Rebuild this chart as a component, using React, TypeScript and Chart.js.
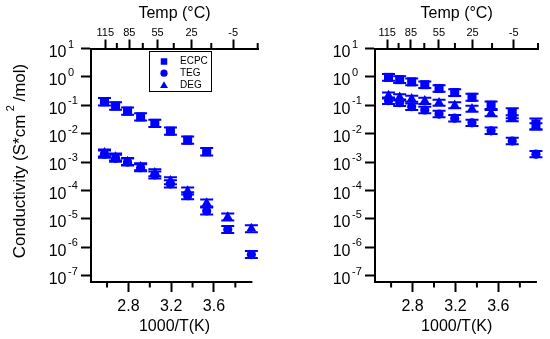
import React, { useEffect, useRef } from 'react';
import { Chart, registerables } from 'chart.js';
import { drawPoint } from 'chart.js/helpers';

Chart.register(...registerables);

const FONT = "'Liberation Sans', Arial, Helvetica, sans-serif";
const BLUE = '#0000ff';

// ---- data ----
// 1000/T positions of the measurement temperatures (115 ... -20 °C)
const xInvT = [2.576, 2.68, 2.792, 2.914, 3.047, 3.193, 3.354, 3.532, 3.729, 3.95];

const leftEcpc = [0.133, 0.094, 0.062, 0.039, 0.023, 0.0123, 0.0059, 0.0023];
const leftTeg = [1.9e-3, 1.35e-3, 1.0e-3, 6.3e-4, 3.5e-4, 1.7e-4, 6.5e-5, 1.9e-5, 4.2e-6, 5.5e-7];
const leftDeg = [2.1e-3, 1.5e-3, 1.05e-3, 6.8e-4, 4.2e-4, 2.2e-4, 9.5e-5, 3.6e-5, 1.15e-5, 4.5e-6];

const rightEcpc = [0.96, 0.8, 0.67, 0.53, 0.39, 0.28, 0.19, 0.1, 0.052, 0.022];
const rightTeg = [0.145, 0.123, 0.089, 0.068, 0.049, 0.035, 0.024, 0.0126, 0.0055, 0.0019];
const rightDeg = [0.22, 0.19, 0.17, 0.143, 0.123, 0.1, 0.075, 0.053, 0.035, 0.018];

// multiplicative error factors (upper = v*f, lower = v/f)
const leftEcpcErr = [1.35, 1.35, 1.35, 1.35, 1.35, 1.35, 1.35, 1.35];
const leftTegErr = [1.33, 1.33, 1.33, 1.33, 1.33, 1.33, 1.33, 1.33, 1.33, 1.33];
const leftDegErr = [1.33, 1.33, 1.33, 1.33, 1.33, 1.33, 1.33, 1.33, 1.33, 1.33];
const rightEcpcErr = [1.31, 1.31, 1.31, 1.31, 1.31, 1.31, 1.33, 1.35, 1.5, 1.56];
const rightTegErr = [1.3, 1.3, 1.3, 1.3, 1.3, 1.3, 1.3, 1.3, 1.3, 1.3];
const rightDegErr = [1.28, 1.28, 1.28, 1.28, 1.28, 1.28, 1.28, 1.28, 1.28, 1.28];

const seriesNames = ['ECPC', 'TEG', 'DEG'];
const seriesStyles = ['rect', 'circle', 'triangle'];

const bottomTicks = [2.6, 2.8, 3.0, 3.2, 3.4, 3.6, 3.8];
const bottomLabels = ['', '2.8', '', '3.2', '', '3.6', ''];
const topTemps = [115, 100, 85, 70, 55, 40, 25, 10, -5, -20];
const topLabels = ['115', '', '85', '', '55', '', '25', '', '-5', ''];
const yDecades = [-7, -6, -5, -4, -3, -2, -1, 0, 1];

const xTitle = '1000/T(K)';
const topTitle = 'Temp (°C)';
const yTitleParts = ['Conductivity (S*cm', '2', '/mol)'];

type Panel = {
  left: number;
  width: number;
  yWidth: number;
  padRight: number;
  xMax: number;
  topMin: number;
  topMax: number;
  yTitle: boolean;
  legend: boolean;
  series: number[][];
  errs: number[][];
};

const panels: Panel[] = [
  {
    left: 0, width: 275, yWidth: 91, padRight: 17, xMax: 4.012, topMin: 2.447, topMax: 3.953,
    yTitle: true, legend: true,
    series: [leftEcpc, leftTeg, leftDeg], errs: [leftEcpcErr, leftTegErr, leftDegErr],
  },
  {
    left: 275, width: 275, yWidth: 100, padRight: 11.7, xMax: 3.972, topMin: 2.465, topMax: 3.953,
    yTitle: false, legend: false,
    series: [rightEcpc, rightTeg, rightDeg], errs: [rightEcpcErr, rightTegErr, rightDegErr],
  },
];

const pointRadius = [6.4, 4.6, 5.8];
const legendRadius = [4.6, 3.6, 4.6];

function makeConfig(p: Panel): any {
  const topTickValues = topTemps.map((t) => 1000 / (t + 273.15));
  const yPad = 14.5;
  const decor = {
    id: 'decor' + p.left,
    beforeDatasetsDraw(chart: any) {
      const ctx = chart.ctx;
      const ys = chart.scales.y;
      ctx.save();
      ctx.strokeStyle = BLUE;
      chart.data.datasets.forEach((ds: any, di: number) => {
        const meta = chart.getDatasetMeta(di);
        const errs = p.errs[di];
        meta.data.forEach((pt: any, i: number) => {
          const v = ds.data[i].y;
          const f = errs[i];
          const yHi = ys.getPixelForValue(v * f);
          const yLo = ys.getPixelForValue(v / f);
          const x = pt.x;
          ctx.lineWidth = 1.5;
          ctx.beginPath();
          ctx.moveTo(x, yHi);
          ctx.lineTo(x, yLo);
          ctx.stroke();
          ctx.lineWidth = 2;
          ctx.beginPath();
          ctx.moveTo(x - 6.5, yHi);
          ctx.lineTo(x + 6.5, yHi);
          ctx.moveTo(x - 6.5, yLo);
          ctx.lineTo(x + 6.5, yLo);
          ctx.stroke();
        });
      });
      ctx.restore();
    },
    afterDraw(chart: any) {
      const ctx = chart.ctx;
      const ca = chart.chartArea;
      const xs = chart.scales.x;
      const x2 = chart.scales.x2;
      const ys = chart.scales.y;
      ctx.save();
      ctx.strokeStyle = '#000';
      ctx.fillStyle = '#000';
      ctx.lineWidth = 2;
      // bottom axis line
      ctx.beginPath();
      ctx.moveTo(ca.left - 1, ca.bottom);
      ctx.lineTo(xs.getPixelForValue(3.95) + 1, ca.bottom);
      ctx.stroke();
      // minor ticks
      ctx.beginPath();
      xs.ticks.forEach((t: any, i: number) => {
        if (!bottomLabels[i]) {
          const px = xs.getPixelForValue(t.value);
          ctx.moveTo(px, ca.bottom);
          ctx.lineTo(px, ca.bottom + 5.5);
        }
      });
      x2.ticks.forEach((t: any, i: number) => {
        if (!topLabels[i]) {
          const px = x2.getPixelForValue(t.value);
          ctx.moveTo(px, ca.top);
          ctx.lineTo(px, ca.top - 5.5);
        }
      });
      ctx.stroke();
      // exponents of y tick labels
      ctx.font = `11px ${FONT}`;
      ctx.textAlign = 'left';
      ctx.textBaseline = 'middle';
      const labelRight = ys.right - 10 - yPad;
      ys.ticks.forEach((t: any) => {
        const py = ys.getPixelForValue(t.value);
        const e = Math.round(Math.log10(t.value));
        ctx.fillText(String(e), labelRight + 1.5, py - 4);
      });
      // y title
      if (p.yTitle) {
        ctx.save();
        ctx.translate(20, 161);
        ctx.rotate(-Math.PI / 2);
        const big = `17px ${FONT}`;
        const small = `11px ${FONT}`;
        const gap = 3.5;
        ctx.font = big;
        const w0 = ctx.measureText(yTitleParts[0]).width;
        const w2 = ctx.measureText(yTitleParts[2]).width;
        ctx.font = small;
        const w1 = ctx.measureText(yTitleParts[1]).width;
        let x = -(w0 + w1 + w2 + 2 * gap) / 2;
        ctx.textAlign = 'left';
        ctx.textBaseline = 'middle';
        ctx.font = big;
        ctx.fillText(yTitleParts[0], x, 0);
        x += w0 + gap;
        ctx.font = small;
        ctx.fillText(yTitleParts[1], x, -9);
        x += w1 + gap;
        ctx.font = big;
        ctx.fillText(yTitleParts[2], x, 0);
        ctx.restore();
      }
      // legend
      if (p.legend) {
        ctx.lineWidth = 1;
        ctx.strokeStyle = '#000';
        ctx.strokeRect(149.5, 51.5, 62, 40);
        ctx.font = `10px ${FONT}`;
        ctx.textAlign = 'left';
        ctx.textBaseline = 'middle';
        const rows = [61.5, 73.2, 84.8];
        seriesNames.forEach((name, i) => {
          ctx.fillStyle = BLUE;
          ctx.strokeStyle = BLUE;
          drawPoint(ctx, { pointStyle: seriesStyles[i], radius: legendRadius[i], borderWidth: 0, rotation: 0 } as any, 164, rows[i] + (i === 2 ? 1 : 0));
          ctx.fillStyle = '#000';
          ctx.fillText(name, 180, rows[i]);
        });
      }
      ctx.restore();
    },
  };

  return {
    type: 'scatter',
    data: {
      datasets: p.series.map((vals, si) => ({
        label: seriesNames[si],
        data: vals.map((v, i) => ({ x: xInvT[i], y: v })),
        pointStyle: seriesStyles[si],
        pointRadius: pointRadius[si],
        backgroundColor: BLUE,
        borderColor: BLUE,
        borderWidth: 0,
        showLine: false,
        xAxisID: 'x',
        yAxisID: 'y',
        clip: false,
      })),
    },
    options: {
      responsive: false,
      animation: false,
      events: [],
      layout: { padding: { left: 0, right: p.padRight, top: 0, bottom: 0 } },
      plugins: { legend: { display: false }, tooltip: { enabled: false } },
      scales: {
        x: {
          type: 'linear',
          position: 'bottom',
          min: 2.45,
          max: p.xMax,
          afterBuildTicks: (s: any) => {
            s.ticks = bottomTicks.map((v) => ({ value: v }));
          },
          afterFit: (s: any) => {
            s.height = 57;
          },
          ticks: {
            callback: (_v: any, i: number) => bottomLabels[i] ?? '',
            font: { family: FONT, size: 16 },
            color: '#000',
            padding: 5,
            maxRotation: 0,
            autoSkip: false,
          },
          grid: {
            drawOnChartArea: false,
            drawTicks: true,
            tickLength: 10,
            tickWidth: 2,
            tickColor: (c: any) => (bottomLabels[c.index] ? '#000' : 'rgba(0,0,0,0)'),
          },
          border: { display: false },
          title: {
            display: true,
            text: xTitle,
            font: { family: FONT, size: 16 },
            color: '#000',
            padding: { top: 0, bottom: 3 },
          },
        },
        x2: {
          type: 'linear',
          position: 'top',
          min: p.topMin,
          max: p.topMax,
          afterBuildTicks: (s: any) => {
            s.ticks = topTickValues.map((v) => ({ value: v }));
          },
          afterFit: (s: any) => {
            s.height = 48.5;
          },
          ticks: {
            callback: (_v: any, i: number) => topLabels[i] ?? '',
            font: { family: FONT, size: 11 },
            color: '#000',
            padding: 0,
            maxRotation: 0,
            autoSkip: false,
          },
          grid: {
            drawOnChartArea: false,
            drawTicks: true,
            tickLength: 9,
            tickWidth: 2,
            tickColor: (c: any) => (topLabels[c.index] ? '#000' : 'rgba(0,0,0,0)'),
          },
          border: { display: true, color: '#000', width: 2 },
          title: {
            display: true,
            text: topTitle,
            font: { family: FONT, size: 16 },
            color: '#000',
            padding: { top: 4, bottom: 0 },
          },
        },
        y: {
          type: 'logarithmic',
          position: 'left',
          min: 5.94e-8,
          max: 10,
          afterBuildTicks: (s: any) => {
            s.ticks = yDecades.map((d) => ({ value: Math.pow(10, d) }));
          },
          afterFit: (s: any) => {
            s.width = p.yWidth;
          },
          ticks: {
            callback: () => '10',
            font: { family: FONT, size: 16 },
            color: '#000',
            padding: yPad,
            labelOffset: 4,
            autoSkip: false,
          },
          grid: {
            drawOnChartArea: false,
            drawTicks: true,
            tickLength: 10,
            tickWidth: 2,
            tickColor: '#000',
          },
          border: { display: true, color: '#000', width: 2 },
        },
      },
    },
    plugins: [decor],
  };
}

function PanelChart({ p }: { p: Panel }) {
  const ref = useRef<HTMLCanvasElement>(null);
  useEffect(() => {
    if (!ref.current) return;
    const chart = new Chart(ref.current, makeConfig(p));
    return () => chart.destroy();
  }, [p]);
  return (
    <canvas
      ref={ref}
      width={p.width}
      height={339}
      style={{ position: 'absolute', left: p.left, top: 0, width: p.width, height: 339 }}
    />
  );
}

export default function App() {
  return (
    <div style={{ position: 'absolute', left: 0, top: 0, width: 550, height: 339, background: '#fff' }}>
      {panels.map((p) => (
        <PanelChart key={p.left} p={p} />
      ))}
    </div>
  );
}
